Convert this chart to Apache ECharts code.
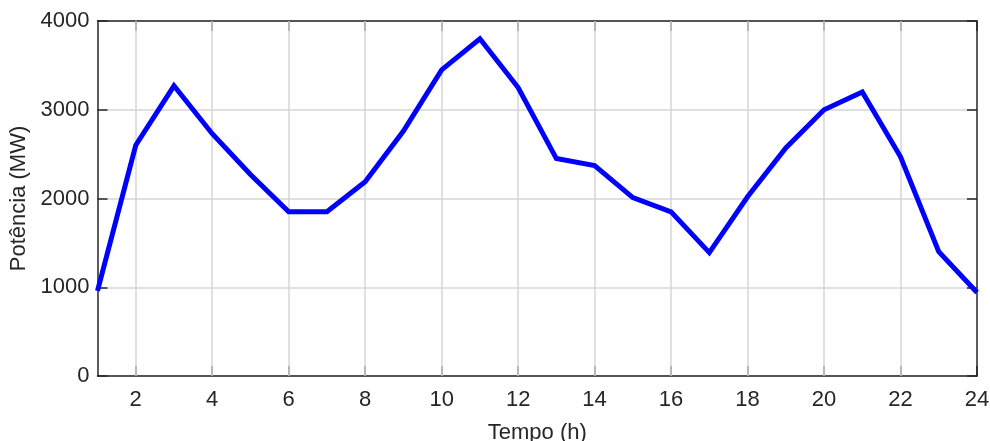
<!DOCTYPE html>
<html><head><meta charset="utf-8">
<script src="https://cdn.jsdelivr.net/npm/echarts@6/dist/echarts.min.js"></script>
<style>html,body{margin:0;padding:0;background:#fff}#c{width:990px;height:441px}</style>
</head><body><div id="c"></div>
<script>
const hours = [1,2,3,4,5,6,7,8,9,10,11,12,13,14,15,16,17,18,19,20,21,22,23,24];
const power = [960,2600,3270,2730,2270,1850,1850,2190,2760,3450,3800,3250,2450,2370,2010,1850,1390,2020,2570,3000,3200,2470,1400,940];
const xTicks = [2,4,6,8,10,12,14,16,18,20,22,24];
const yTicks = [0,1000,2000,3000,4000];

const txt = '#262626';
const font = 'Liberation Sans, Arial, sans-serif';
const chart = echarts.init(document.getElementById('c'), null, {renderer:'canvas'});
const tickStyle = {show:true, inside:true, length:10, lineStyle:{color:txt, width:1.5}};
chart.setOption({
  animation:false,
  grid:{left:97.5, right:13, top:21, bottom:65, containLabel:false, outerBoundsMode:'none'},
  xAxis:[{
    type:'value', min:1, max:24, position:'bottom',
    name:'Tempo (h)', nameLocation:'middle', nameGap:46,
    nameTextStyle:{color:txt, fontSize:22, fontFamily:font},
    axisLine:{show:true, onZero:false, lineStyle:{color:txt, width:1.5}},
    axisTick:Object.assign({customValues:xTicks}, tickStyle),
    axisLabel:{customValues:xTicks, color:txt, fontSize:22, fontFamily:font, margin:13},
    splitLine:{show:false}
  },{
    type:'value', min:1, max:24, position:'top',
    axisLine:{show:true, onZero:false, lineStyle:{color:txt, width:1.5}},
    axisTick:Object.assign({customValues:xTicks}, tickStyle),
    axisLabel:{show:false},
    splitLine:{show:false}
  }],
  yAxis:[{
    type:'value', min:0, max:4000, interval:1000, position:'left',
    name:'Potência (MW)', nameLocation:'middle', nameGap:58,
    nameTextStyle:{color:txt, fontSize:22, fontFamily:font},
    axisLine:{show:true, onZero:false, lineStyle:{color:txt, width:1.5}},
    axisTick:tickStyle,
    axisLabel:{color:txt, fontSize:22, fontFamily:font, margin:8, formatter:v=>String(v)},
    splitLine:{show:true, lineStyle:{color:'#d6d6d6', width:1.5}}
  },{
    type:'value', min:0, max:4000, interval:1000, position:'right',
    axisLine:{show:true, onZero:false, lineStyle:{color:txt, width:1.5}},
    axisTick:tickStyle,
    axisLabel:{show:false},
    splitLine:{show:false}
  }],
  series:[{
    type:'line', xAxisIndex:0, yAxisIndex:0,
    data:hours.map((h,i)=>[h,power[i]]),
    showSymbol:false, symbol:'none',
    lineStyle:{color:'#0000ff', width:5, join:'miter'},
    z:5,
    markLine:{
      silent:true, symbol:'none', label:{show:false},
      lineStyle:{color:'#d6d6d6', width:1.5, type:'solid'},
      data:xTicks.filter(v=>v<24).map(v=>({xAxis:v}))
    }
  }]
});
</script></body></html>
